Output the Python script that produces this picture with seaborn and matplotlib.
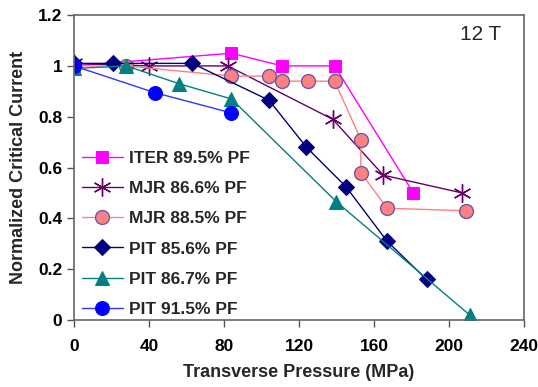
import matplotlib
matplotlib.use("Agg")
import matplotlib.pyplot as plt
import seaborn as sns
import pandas as pd

# data
iter_895_x = [0, 84, 111, 139, 181]
iter_895_y = [1.0, 1.05, 1.0, 1.0, 0.50]

mjr_866_x = [0, 40, 82, 138, 165, 207]
mjr_866_y = [1.01, 1.0, 1.0, 0.79, 0.57, 0.50]

mjr_885_x = [0, 28, 84, 104, 111, 125, 139, 153, 153, 167, 209]
mjr_885_y = [1.0, 1.0, 0.96, 0.96, 0.94, 0.94, 0.94, 0.71, 0.58, 0.44, 0.43]

pit_856_x = [0, 21, 63, 104, 124, 145, 167, 188]
pit_856_y = [1.01, 1.01, 1.01, 0.865, 0.68, 0.525, 0.31, 0.16]

pit_867_x = [0, 28, 56, 84, 140, 211]
pit_867_y = [0.99, 1.0, 0.93, 0.87, 0.465, 0.02]

pit_915_x = [0, 43, 84]
pit_915_y = [1.0, 0.895, 0.815]

x_ticks = [0, 40, 80, 120, 160, 200, 240]
y_ticks = [0, 0.2, 0.4, 0.6, 0.8, 1.0, 1.2]
y_tick_labels = ["0", "0.2", "0.4", "0.6", "0.8", "1", "1.2"]

series = [
    ("ITER 89.5% PF", iter_895_x, iter_895_y,
     dict(color="#FF00FF", marker="s", markersize=8, markerfacecolor="#FF00FF", markeredgecolor="#FF00FF")),
    ("MJR 86.6% PF", mjr_866_x, mjr_866_y,
     dict(color="#660066", marker=(6, 2, 0), markersize=13, markeredgewidth=1.0, markeredgecolor="#660066")),
    ("MJR 88.5% PF", mjr_885_x, mjr_885_y,
     dict(color="#FF8080", marker="o", markersize=10, markerfacecolor="#FF8080", markeredgecolor="#6A5AAA", markeredgewidth=1.0)),
    ("PIT 85.6% PF", pit_856_x, pit_856_y,
     dict(color="#000080", marker="D", markersize=8, markerfacecolor="#000080", markeredgecolor="#000080")),
    ("PIT 86.7% PF", pit_867_x, pit_867_y,
     dict(color="#008080", marker="^", markersize=10, markerfacecolor="#008080", markeredgecolor="#008080")),
    ("PIT 91.5% PF", pit_915_x, pit_915_y,
     dict(color="#3333FF", marker="o", markersize=10, markerfacecolor="#0000FF", markeredgecolor="#0000FF")),
]

sns.set_style("white")
plt.rcParams["font.family"] = ["Liberation Sans", "DejaVu Sans"]

fig = plt.figure(figsize=(5.38, 3.87), dpi=100)
ax = fig.add_axes([0.1375, 0.173, 0.8365, 0.788])

for name, xs, ys, style in series:
    df = pd.DataFrame({"x": xs, "y": ys})
    sns.lineplot(data=df, x="x", y="y", ax=ax, sort=False, label=name,
                 linewidth=1.0, estimator=None, **style)

ax.set_xlim(0, 240)
ax.set_ylim(0, 1.2)
ax.set_xticks(x_ticks)
ax.set_yticks(y_ticks)
ax.set_yticklabels(y_tick_labels)
ax.tick_params(axis="both", direction="out", length=5, width=1, colors="#555555",
               labelcolor="black", labelsize=12.5, bottom=True, left=True)
ax.tick_params(axis="x", pad=9)
for lab in ax.get_xticklabels() + ax.get_yticklabels():
    lab.set_fontweight("bold")
for sp in ax.spines.values():
    sp.set_color("#666666")
    sp.set_linewidth(1.2)

ax.set_xlabel("Transverse Pressure (MPa)", fontsize=13, fontweight="bold", labelpad=7)
ax.set_ylabel("Normalized Critical Current", fontsize=13, fontweight="bold", labelpad=8)

ax.text(0.95, 0.935, "12 T", transform=ax.transAxes, ha="right", va="center", fontsize=15)

leg = ax.legend(loc="lower left", frameon=False, fontsize=12.5, handlelength=2.4,
                labelspacing=0.87, borderaxespad=0.3, handletextpad=0.35,
                bbox_to_anchor=(-0.01, -0.03))
for t in leg.get_texts():
    t.set_fontweight("bold")

fig.savefig("out.png", dpi=100)
